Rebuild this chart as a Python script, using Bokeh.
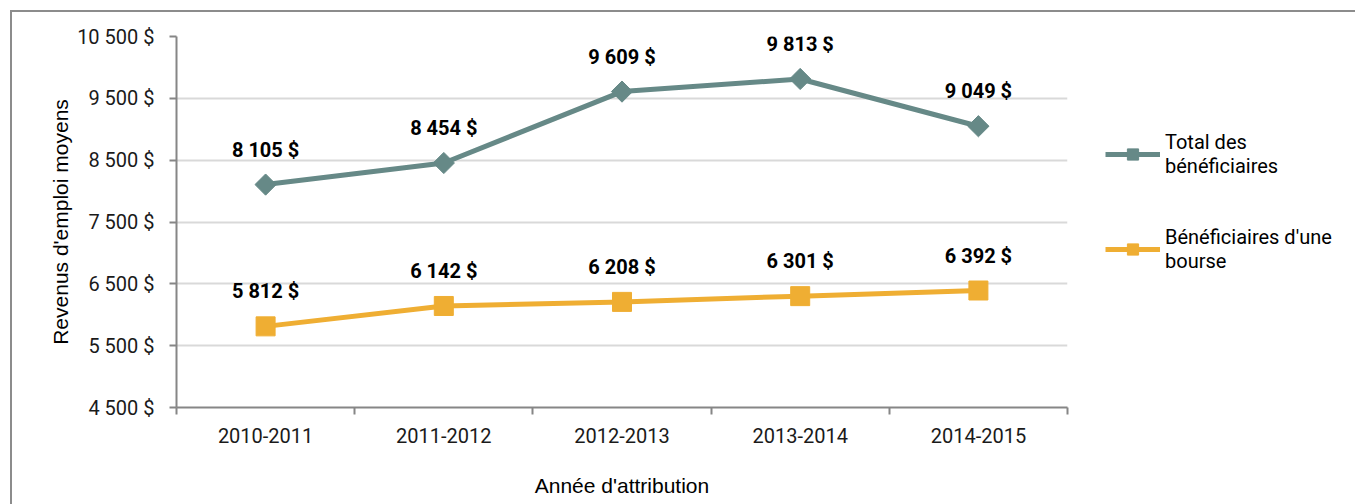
import math
from bokeh.plotting import figure
from bokeh.models import (ColumnDataSource, FixedTicker, CustomJSTickFormatter, Range1d,
                          LabelSet, Legend, LegendItem)
from bokeh.core.properties import value
from bokeh.embed import file_html
from bokeh.resources import INLINE

# ---- data ----
categories = ["2010-2011", "2011-2012", "2012-2013", "2013-2014", "2014-2015"]
total_beneficiaires = [8105, 8454, 9609, 9813, 9049]
beneficiaires_bourse = [5812, 6142, 6208, 6301, 6392]
series_names = ["Total des\nbénéficiaires", "Bénéficiaires d'une\nbourse"]
y_ticks = [4500, 5500, 6500, 7500, 8500, 9500, 10500]
y_title = "Revenus d'emploi moyens"
x_title = "Année d'attribution"

GRAY = "#668987"
ORANGE = "#EFAE33"
AXIS = "#868686"
NARROW = "Roboto, 'DejaVu Sans Condensed', sans-serif"
REG = "'Liberation Sans', Arial, sans-serif"


def fmt(v):
    return f"{v:,}".replace(",", " ") + " $"


xs = [i + 0.5 for i in range(len(categories))]
src_t = ColumnDataSource(dict(x=xs, y=total_beneficiaires, lab=[fmt(v) for v in total_beneficiaires]))
src_b = ColumnDataSource(dict(x=xs, y=beneficiaires_bourse, lab=[fmt(v) for v in beneficiaires_bourse]))

p = figure(frame_width=891, frame_height=371,
           x_range=Range1d(0, len(categories)), y_range=Range1d(y_ticks[0], y_ticks[-1]),
           output_backend="svg", toolbar_location=None,
           min_border_left=164, min_border_right=285, min_border_top=24, min_border_bottom=97)
p.styles = {"margin-left": "10px", "margin-top": "10px",
            "border-left": "2px solid #8c8c8c", "border-top": "2px solid #8c8c8c",
            "border-right": "2px solid #8c8c8c"}
p.outline_line_color = None
p.background_fill_color = "white"
p.border_fill_color = "white"

# y axis
p.yaxis.ticker = FixedTicker(ticks=y_ticks)
p.yaxis.formatter = CustomJSTickFormatter(
    code="return Math.round(tick).toString().replace(/\\B(?=(\\d{3})+(?!\\d))/g, ' ') + ' $';")
p.yaxis.axis_line_color = AXIS
p.yaxis.axis_line_width = 2
p.yaxis.major_tick_line_color = AXIS
p.yaxis.major_tick_line_width = 2
p.yaxis.major_tick_in = 0
p.yaxis.major_tick_out = 7
p.yaxis.minor_tick_line_color = None
p.yaxis.major_label_text_font = NARROW
p.yaxis.major_label_text_font_size = "20px"
p.yaxis.major_label_text_color = "#1a1a1a"
p.yaxis.major_label_standoff = 15
p.yaxis.axis_label = y_title
p.yaxis.axis_label_text_font = REG
p.yaxis.axis_label_text_font_style = "normal"
p.yaxis.axis_label_text_font_size = "21px"
p.yaxis.axis_label_text_color = "#000000"
p.yaxis.axis_label_standoff = 2

# x axis
p.xaxis.ticker = FixedTicker(ticks=xs, minor_ticks=list(range(len(categories) + 1)))
p.xaxis.major_label_overrides = {x: c for x, c in zip(xs, categories)}
p.xaxis.axis_line_color = AXIS
p.xaxis.axis_line_width = 2
p.xaxis.major_tick_line_color = None
p.xaxis.major_tick_in = 0
p.xaxis.major_tick_out = 0
p.xaxis.minor_tick_line_color = AXIS
p.xaxis.minor_tick_line_width = 2
p.xaxis.minor_tick_in = 0
p.xaxis.minor_tick_out = 7
p.xaxis.major_label_text_font = NARROW
p.xaxis.major_label_text_font_size = "20px"
p.xaxis.major_label_text_color = "#1a1a1a"
p.xaxis.major_label_standoff = 13
p.xaxis.axis_label = x_title
p.xaxis.axis_label_text_font = REG
p.xaxis.axis_label_text_font_style = "normal"
p.xaxis.axis_label_text_font_size = "21px"
p.xaxis.axis_label_text_color = "#000000"
p.xaxis.axis_label_standoff = 28

p.xgrid.grid_line_color = None
p.ygrid.ticker = FixedTicker(ticks=y_ticks)
p.ygrid.grid_line_color = "#d9d9d9"
p.ygrid.grid_line_width = 2

# series
l1 = p.line("x", "y", source=src_t, line_width=5, line_color=GRAY)
m1 = p.scatter("x", "y", source=src_t, marker="square", angle=math.pi / 4, size=15,
               fill_color=GRAY, line_color=GRAY)
l2 = p.line("x", "y", source=src_b, line_width=5, line_color=ORANGE)
m2 = p.scatter("x", "y", source=src_b, marker="square", size=19,
               fill_color=ORANGE, line_color=ORANGE)

for src in (src_t, src_b):
    p.add_layout(LabelSet(x="x", y="y", text="lab", source=src, y_offset=35,
                          text_align="center", text_baseline="middle",
                          text_font=value(NARROW), text_font_style="bold",
                          text_font_size=value("20px"), text_color="#000000"))

legend = Legend(items=[LegendItem(label=series_names[0], renderers=[l1, m1]),
                       LegendItem(label=series_names[1], renderers=[l2, m2])],
                location=(38, 134), orientation="vertical",
                glyph_width=55, glyph_height=28, label_standoff=5, spacing=47,
                padding=0, margin=0, border_line_color=None, background_fill_alpha=0,
                label_text_font=NARROW, label_text_font_size="20px",
                label_text_color="#000000")
p.add_layout(legend, "right")

open("out.html", "w").write(file_html(p, INLINE))
